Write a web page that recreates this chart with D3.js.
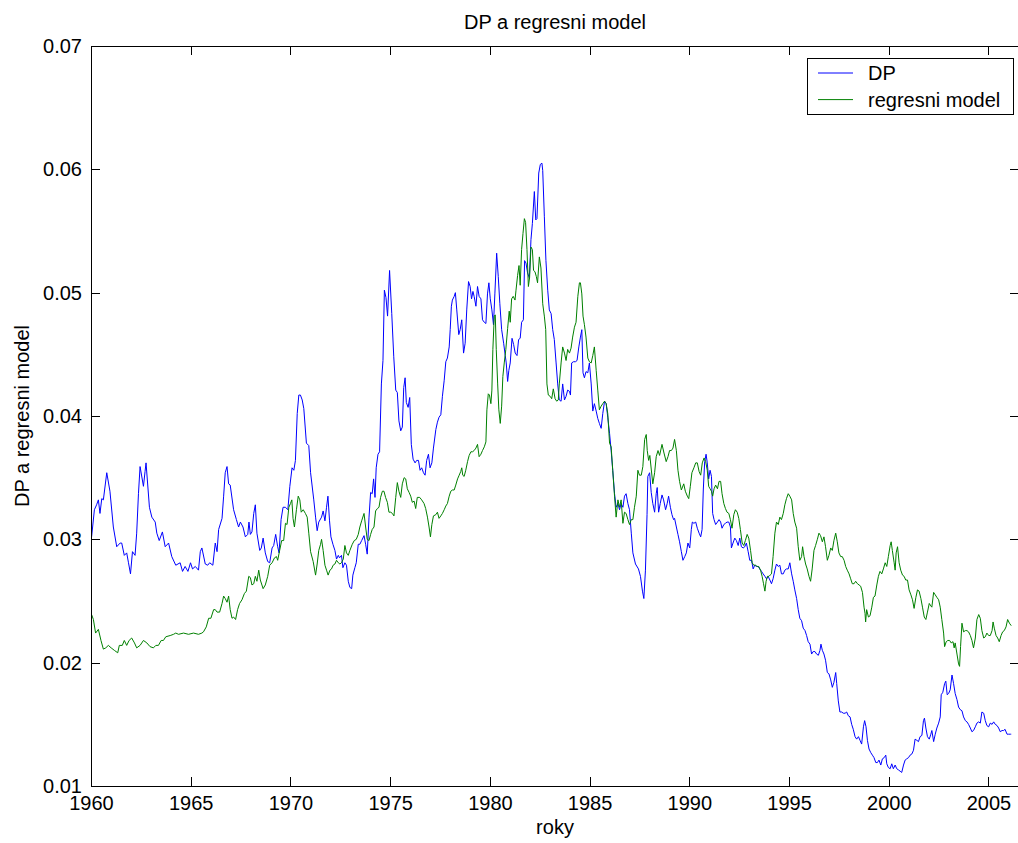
<!DOCTYPE html>
<html>
<head>
  <meta charset="utf-8">
  <title>DP a regresni model</title>
  <style>
    body { margin: 0; background: #fff; }
    text { font-family: "Liberation Sans", Arial, sans-serif; fill: #000; }
    .axis text { font-size: 20px; }
    .axis path, .axis line { stroke: #000; stroke-width: 1; shape-rendering: crispEdges; }
    .series { fill: none; stroke-width: 1; }
  </style>
  <script src="https://d3js.org/d3.v7.min.js"></script>
</head>
<body>
  <script>
    // DP (blue): [year, value]
    var dpData = [
      [1960.03,.0302],[1960.17,.0324],[1960.28,.0328],[1960.37,.0332],[1960.45,.0321],[1960.54,.0333],[1960.62,.0332],[1960.79,.0354],[1960.95,.0339],
      [1961.12,.0310],[1961.29,.0294],[1961.46,.0297],[1961.54,.0297],[1961.67,.0287],[1961.79,.0289],[1961.88,.0281],[1961.98,.0272],
      [1962.08,.0290],[1962.21,.0287],[1962.29,.0305],[1962.38,.0337],[1962.46,.0359],[1962.63,.0343],[1962.71,.0355],[1962.76,.0362],[1962.93,.0326],
      [1963.05,.0318],[1963.22,.0314],[1963.30,.0305],[1963.42,.0299],[1963.58,.0306],[1963.72,.0294],[1963.89,.0297],
      [1964.05,.0286],[1964.25,.0279],[1964.47,.0281],[1964.59,.0274],[1964.72,.0278],[1964.86,.0274],[1964.99,.0281],
      [1965.09,.0276],[1965.23,.0278],[1965.39,.0275],[1965.48,.0290],[1965.56,.0293],[1965.73,.0280],[1965.85,.0279],[1965.95,.0281],
      [1966.11,.0279],[1966.23,.0297],[1966.32,.0290],[1966.40,.0308],[1966.57,.0317],[1966.65,.0335],[1966.73,.0354],[1966.82,.0359],[1966.90,.0345],[1966.98,.0344],
      [1967.15,.0324],[1967.29,.0316],[1967.40,.0310],[1967.49,.0314],[1967.62,.0310],[1967.74,.0302],[1967.86,.0304],[1967.92,.0314],[1967.99,.0304],
      [1968.07,.0306],[1968.16,.0321],[1968.24,.0328],[1968.32,.0305],[1968.46,.0291],[1968.54,.0293],[1968.63,.0301],[1968.74,.0289],[1968.86,.0282],[1968.96,.0281],
      [1969.08,.0293],[1969.16,.0295],[1969.26,.0304],[1969.36,.0294],[1969.43,.0289],[1969.53,.0316],[1969.63,.0326],[1969.75,.0326],[1969.87,.0324],[1969.97,.0343],
      [1970.08,.0358],[1970.17,.0356],[1970.25,.0364],[1970.34,.0402],[1970.42,.0417],[1970.50,.0417],[1970.59,.0413],[1970.67,.0406],[1970.80,.0378],[1970.92,.0376],
      [1971.01,.0354],[1971.17,.0332],[1971.26,.0318],[1971.34,.0307],[1971.42,.0314],[1971.56,.0318],[1971.64,.0323],[1971.73,.0315],[1971.81,.0326],[1971.88,.0335],[1971.96,.0315],
      [1972.03,.0302],[1972.13,.0296],[1972.23,.0291],[1972.31,.0284],[1972.40,.0287],[1972.46,.0285],[1972.56,.0287],[1972.63,.0277],[1972.73,.0281],[1972.81,.0279],[1972.90,.0266],[1972.98,.0261],
      [1973.07,.0260],[1973.13,.0271],[1973.23,.0277],[1973.30,.0281],[1973.40,.0296],[1973.48,.0296],[1973.57,.0299],[1973.69,.0303],[1973.77,.0296],[1973.85,.0288],[1973.94,.0318],
      [1974.02,.0338],[1974.10,.0337],[1974.17,.0349],[1974.24,.0334],[1974.30,.0358],[1974.39,.0369],[1974.47,.0371],[1974.56,.0426],[1974.64,.0445],[1974.71,.0502],[1974.79,.0496],[1974.87,.0481],[1974.97,.0518],
      [1975.08,.0483],[1975.18,.0448],[1975.28,.0421],[1975.36,.0419],[1975.44,.0396],[1975.53,.0388],[1975.61,.0391],[1975.68,.0423],[1975.75,.0431],[1975.81,.0411],[1975.90,.0407],[1975.98,.0415],
      [1976.06,.0377],[1976.15,.0365],[1976.25,.0362],[1976.33,.0364],[1976.42,.0364],[1976.50,.0356],[1976.58,.0358],[1976.67,.0354],[1976.75,.0352],[1976.83,.0364],[1976.92,.0369],
      [1977.00,.0358],[1977.09,.0362],[1977.17,.0374],[1977.29,.0389],[1977.37,.0395],[1977.45,.0399],[1977.54,.0401],[1977.62,.0416],[1977.71,.0429],[1977.79,.0444],[1977.87,.0447],[1977.96,.0456],
      [1978.01,.0470],[1978.07,.0489],[1978.12,.0494],[1978.21,.0497],[1978.27,.0500],[1978.34,.0486],[1978.44,.0466],[1978.51,.0470],[1978.59,.0478],[1978.68,.0451],[1978.76,.0459],[1978.84,.0486],[1978.93,.0509],
      [1979.01,.0505],[1979.08,.0495],[1979.15,.0501],[1979.21,.0497],[1979.30,.0489],[1979.38,.0505],[1979.46,.0497],[1979.55,.0495],[1979.63,.0478],[1979.72,.0476],[1979.80,.0475],[1979.88,.0499],[1979.95,.0508],
      [1980.02,.0495],[1980.10,.0486],[1980.18,.0474],[1980.25,.0499],[1980.34,.0532],[1980.42,.0513],[1980.50,.0491],[1980.59,.0470],[1980.69,.0459],[1980.77,.0449],[1980.82,.0443],[1980.89,.0428],[1980.95,.0437],
      [1981.02,.0443],[1981.11,.0463],[1981.19,.0458],[1981.27,.0451],[1981.36,.0449],[1981.44,.0462],[1981.52,.0463],[1981.59,.0476],[1981.68,.0478],[1981.74,.0526],[1981.81,.0524],[1981.89,.0516],[1981.98,.0512],
      [1982.06,.0543],[1982.13,.0556],[1982.23,.0582],[1982.30,.0559],[1982.36,.0560],[1982.45,.0597],[1982.53,.0604],[1982.61,.0605],[1982.65,.0599],[1982.73,.0562],[1982.81,.0526],[1982.90,.0502],[1982.98,.0486],
      [1983.07,.0483],[1983.15,.0470],[1983.23,.0462],[1983.32,.0443],[1983.40,.0426],[1983.48,.0413],[1983.57,.0412],[1983.65,.0426],[1983.74,.0413],[1983.82,.0416],[1983.90,.0421],[1983.99,.0420],
      [1984.04,.0417],[1984.10,.0443],[1984.19,.0444],[1984.29,.0444],[1984.37,.0445],[1984.46,.0456],[1984.54,.0464],[1984.61,.0470],[1984.67,.0435],[1984.74,.0431],[1984.82,.0436],[1984.91,.0435],[1984.99,.0443],
      [1985.08,.0426],[1985.16,.0404],[1985.24,.0410],[1985.33,.0404],[1985.41,.0398],[1985.49,.0394],[1985.58,.0390],[1985.66,.0402],[1985.75,.0412],[1985.83,.0410],[1985.91,.0399],
      [1986.00,.0386],[1986.08,.0372],[1986.16,.0356],[1986.25,.0337],[1986.33,.0326],[1986.42,.0329],[1986.50,.0324],[1986.58,.0329],[1986.67,.0326],[1986.75,.0335],[1986.83,.0337],[1986.92,.0329],
      [1987.00,.0324],[1987.09,.0305],[1987.17,.0289],[1987.30,.0280],[1987.45,.0276],[1987.55,.0270],[1987.65,.0258],[1987.72,.0252],[1987.80,.0275],[1987.88,.0320],[1987.92,.0351],
      [1988.01,.0354],[1988.09,.0338],[1988.17,.0329],[1988.26,.0322],[1988.34,.0337],[1988.39,.0342],[1988.46,.0322],[1988.54,.0329],[1988.63,.0336],[1988.71,.0332],[1988.81,.0324],[1988.89,.0329],[1988.96,.0335],
      [1989.05,.0326],[1989.13,.0320],[1989.21,.0316],[1989.26,.0317],[1989.35,.0310],[1989.43,.0304],[1989.51,.0298],[1989.60,.0290],[1989.68,.0283],[1989.77,.0286],[1989.85,.0289],[1989.93,.0297],
      [1990.02,.0293],[1990.10,.0308],[1990.15,.0314],[1990.23,.0313],[1990.32,.0314],[1990.40,.0309],[1990.49,.0305],[1990.57,.0302],[1990.64,.0308],[1990.70,.0340],[1990.77,.0363],[1990.84,.0369],[1990.90,.0362],[1990.97,.0349],
      [1991.04,.0356],[1991.11,.0351],[1991.17,.0321],[1991.24,.0316],[1991.32,.0312],[1991.41,.0314],[1991.49,.0316],[1991.57,.0314],[1991.64,.0309],[1991.73,.0312],[1991.81,.0313],[1991.89,.0314],[1991.98,.0314],
      [1992.06,.0310],[1992.11,.0293],[1992.19,.0297],[1992.28,.0301],[1992.36,.0299],[1992.45,.0295],[1992.53,.0301],[1992.61,.0294],[1992.70,.0293],[1992.78,.0294],[1992.86,.0297],[1992.95,.0290],
      [1993.03,.0283],[1993.12,.0283],[1993.20,.0276],[1993.28,.0279],[1993.37,.0278],[1993.45,.0278],[1993.53,.0276],[1993.62,.0274],[1993.70,.0272],[1993.79,.0270],[1993.87,.0268],[1993.95,.0270],
      [1994.04,.0267],[1994.12,.0264],[1994.20,.0268],[1994.29,.0275],[1994.37,.0280],[1994.46,.0278],[1994.54,.0279],[1994.62,.0272],[1994.71,.0272],[1994.79,.0275],[1994.87,.0276],[1994.96,.0276],
      [1995.04,.0281],[1995.13,.0272],[1995.21,.0266],[1995.29,.0259],[1995.38,.0252],[1995.46,.0243],[1995.54,.0236],[1995.63,.0234],[1995.71,.0228],[1995.80,.0226],[1995.88,.0222],[1995.96,.0217],
      [1996.05,.0215],[1996.13,.0207],[1996.21,.0209],[1996.30,.0209],[1996.38,.0207],[1996.47,.0206],[1996.55,.0210],[1996.60,.0215],[1996.67,.0210],[1996.75,.0207],[1996.83,.0202],[1996.92,.0192],
      [1997.00,.0191],[1997.09,.0186],[1997.17,.0180],[1997.25,.0184],[1997.34,.0192],[1997.39,.0183],[1997.47,.0169],[1997.55,.0160],[1997.64,.0160],[1997.72,.0159],[1997.81,.0159],[1997.89,.0160],[1997.97,.0157],
      [1998.06,.0156],[1998.14,.0150],[1998.22,.0146],[1998.31,.0140],[1998.39,.0138],[1998.48,.0140],[1998.56,.0137],[1998.64,.0134],[1998.73,.0148],[1998.79,.0153],[1998.86,.0148],[1998.93,.0137],
      [1999.01,.0130],[1999.10,.0127],[1999.18,.0125],[1999.26,.0123],[1999.35,.0119],[1999.43,.0119],[1999.51,.0121],[1999.60,.0117],[1999.68,.0122],[1999.77,.0123],[1999.85,.0125],[1999.90,.0118],[1999.98,.0115],
      [2000.07,.0114],[2000.15,.0118],[2000.23,.0114],[2000.32,.0117],[2000.40,.0114],[2000.49,.0113],[2000.57,.0112],[2000.65,.0111],[2000.74,.0117],[2000.82,.0121],[2000.90,.0122],[2000.99,.0123],
      [2001.07,.0125],[2001.16,.0126],[2001.24,.0129],[2001.32,.0138],[2001.41,.0137],[2001.49,.0136],[2001.57,.0140],[2001.66,.0141],[2001.74,.0153],[2001.79,.0155],[2001.86,.0147],[2001.94,.0140],
      [2002.03,.0138],[2002.11,.0142],[2002.16,.0145],[2002.25,.0136],[2002.33,.0142],[2002.41,.0147],[2002.50,.0151],[2002.58,.0156],[2002.63,.0174],[2002.71,.0176],[2002.80,.0183],[2002.86,.0185],[2002.93,.0174],
      [2003.00,.0175],[2003.08,.0178],[2003.17,.0190],[2003.25,.0183],[2003.33,.0175],[2003.42,.0170],[2003.50,.0164],[2003.58,.0162],[2003.67,.0161],[2003.75,.0156],[2003.84,.0153],[2003.92,.0152],
      [2004.00,.0150],[2004.09,.0147],[2004.17,.0144],[2004.25,.0145],[2004.34,.0148],[2004.42,.0151],[2004.51,.0152],[2004.59,.0151],[2004.67,.0160],[2004.76,.0159],[2004.84,.0153],[2004.92,.0149],
      [2005.01,.0148],[2005.09,.0151],[2005.18,.0150],[2005.26,.0152],[2005.34,.0150],[2005.43,.0149],[2005.51,.0147],[2005.59,.0144],[2005.68,.0145],[2005.76,.0145],[2005.83,.0146],[2005.93,.0142],
      [2006.01,.0142],[2006.10,.0142],[2006.14,.0142]
    ];

    // regresni model (green): [year, value]
    var modelData = [
      [1960.03,.0239],[1960.12,.0235],[1960.23,.0224],[1960.37,.0227],[1960.50,.0218],[1960.62,.0211],[1960.74,.0212],[1960.87,.0214],
      [1961.01,.0212],[1961.17,.0210],[1961.34,.0208],[1961.42,.0214],[1961.57,.0214],[1961.67,.0218],[1961.79,.0214],[1961.91,.0218],
      [1962.04,.0220],[1962.18,.0216],[1962.29,.0212],[1962.46,.0214],[1962.63,.0218],[1962.80,.0216],[1962.96,.0213],
      [1963.13,.0212],[1963.25,.0214],[1963.38,.0214],[1963.52,.0218],[1963.63,.0218],[1963.75,.0221],[1963.97,.0222],
      [1964.14,.0223],[1964.25,.0224],[1964.39,.0223],[1964.64,.0224],[1964.89,.0223],[1965.14,.0224],[1965.39,.0223],[1965.56,.0224],
      [1965.64,.0225],[1965.78,.0229],[1965.90,.0236],[1966.01,.0236],[1966.15,.0243],[1966.23,.0243],[1966.32,.0241],[1966.45,.0241],
      [1966.57,.0248],[1966.65,.0254],[1966.73,.0252],[1966.82,.0249],[1966.90,.0254],[1966.98,.0243],
      [1967.07,.0236],[1967.15,.0237],[1967.25,.0235],[1967.35,.0243],[1967.45,.0248],[1967.57,.0251],[1967.69,.0256],[1967.79,.0258],[1967.91,.0270],[1967.99,.0269],
      [1968.07,.0263],[1968.16,.0264],[1968.24,.0270],[1968.32,.0266],[1968.41,.0275],[1968.49,.0267],[1968.63,.0260],[1968.74,.0263],[1968.86,.0270],[1968.96,.0279],
      [1969.08,.0281],[1969.20,.0285],[1969.30,.0286],[1969.36,.0283],[1969.46,.0291],[1969.56,.0299],[1969.66,.0299],[1969.75,.0313],[1969.83,.0312],[1969.92,.0326],
      [1970.00,.0329],[1970.07,.0332],[1970.13,.0317],[1970.20,.0310],[1970.30,.0324],[1970.39,.0335],[1970.47,.0332],[1970.54,.0322],[1970.64,.0324],[1970.75,.0321],[1970.84,.0318],[1970.92,.0305],
      [1971.01,.0290],[1971.14,.0282],[1971.26,.0271],[1971.34,.0280],[1971.42,.0291],[1971.51,.0296],[1971.56,.0300],[1971.64,.0291],[1971.73,.0279],[1971.81,.0275],[1971.89,.0271],[1971.98,.0275],
      [1972.06,.0276],[1972.14,.0279],[1972.23,.0280],[1972.31,.0283],[1972.40,.0281],[1972.48,.0280],[1972.56,.0281],[1972.65,.0284],[1972.73,.0295],[1972.81,.0289],[1972.90,.0287],[1972.98,.0291],
      [1973.10,.0296],[1973.20,.0299],[1973.30,.0300],[1973.40,.0304],[1973.48,.0310],[1973.57,.0315],[1973.69,.0321],[1973.77,.0310],[1973.85,.0300],[1973.94,.0299],
      [1974.02,.0304],[1974.10,.0308],[1974.19,.0310],[1974.27,.0323],[1974.36,.0325],[1974.44,.0326],[1974.52,.0334],[1974.61,.0339],[1974.69,.0339],[1974.77,.0334],[1974.86,.0330],[1974.94,.0322],
      [1975.03,.0322],[1975.11,.0321],[1975.19,.0319],[1975.28,.0334],[1975.36,.0346],[1975.44,.0339],[1975.53,.0334],[1975.61,.0345],[1975.70,.0350],[1975.78,.0349],[1975.86,.0341],[1975.95,.0338],
      [1976.03,.0335],[1976.11,.0330],[1976.20,.0331],[1976.28,.0325],[1976.36,.0334],[1976.48,.0334],[1976.58,.0332],[1976.70,.0329],[1976.78,.0325],[1976.87,.0318],[1976.95,.0310],
      [1977.02,.0302],[1977.09,.0312],[1977.17,.0319],[1977.29,.0320],[1977.37,.0322],[1977.45,.0317],[1977.54,.0319],[1977.62,.0321],[1977.71,.0324],[1977.79,.0327],[1977.87,.0329],[1977.96,.0335],
      [1978.04,.0339],[1978.12,.0340],[1978.21,.0340],[1978.29,.0344],[1978.38,.0349],[1978.46,.0352],[1978.54,.0355],[1978.59,.0358],[1978.64,.0352],[1978.71,.0351],[1978.79,.0356],[1978.88,.0363],[1978.96,.0368],
      [1979.05,.0371],[1979.13,.0371],[1979.21,.0372],[1979.30,.0374],[1979.38,.0377],[1979.46,.0367],[1979.55,.0369],[1979.63,.0372],[1979.72,.0375],[1979.80,.0379],[1979.85,.0405],[1979.92,.0418],[1979.98,.0417],
      [1980.05,.0410],[1980.10,.0421],[1980.15,.0454],[1980.22,.0481],[1980.27,.0482],[1980.32,.0454],[1980.39,.0426],[1980.45,.0405],[1980.52,.0394],[1980.59,.0408],[1980.65,.0432],[1980.72,.0443],[1980.80,.0454],[1980.89,.0471],[1980.97,.0485],
      [1981.02,.0476],[1981.09,.0495],[1981.17,.0497],[1981.26,.0494],[1981.31,.0502],[1981.39,.0514],[1981.46,.0522],[1981.52,.0506],[1981.59,.0535],[1981.66,.0548],[1981.73,.0560],[1981.79,.0557],[1981.86,.0535],[1981.93,.0505],[1981.99,.0512],
      [1982.06,.0537],[1982.13,.0535],[1982.19,.0518],[1982.26,.0517],[1982.33,.0513],[1982.39,.0508],[1982.48,.0529],[1982.56,.0520],[1982.65,.0491],[1982.73,.0481],[1982.80,.0470],[1982.86,.0426],[1982.93,.0417],
      [1983.02,.0416],[1983.10,.0414],[1983.18,.0422],[1983.27,.0414],[1983.35,.0412],[1983.43,.0413],[1983.48,.0426],[1983.57,.0443],[1983.65,.0456],[1983.74,.0451],[1983.82,.0445],[1983.90,.0454],[1983.99,.0451],
      [1984.07,.0455],[1984.15,.0464],[1984.24,.0472],[1984.32,.0476],[1984.41,.0497],[1984.49,.0508],[1984.54,.0508],[1984.61,.0499],[1984.67,.0481],[1984.74,.0474],[1984.82,.0464],[1984.91,.0447],[1984.99,.0444],
      [1985.08,.0443],[1985.16,.0449],[1985.24,.0456],[1985.33,.0437],[1985.41,.0421],[1985.49,.0405],[1985.58,.0408],[1985.66,.0410],[1985.75,.0412],[1985.83,.0410],[1985.91,.0402],
      [1986.00,.0378],[1986.08,.0375],[1986.16,.0356],[1986.25,.0335],[1986.33,.0318],[1986.42,.0332],[1986.50,.0326],[1986.58,.0332],[1986.67,.0313],[1986.75,.0322],[1986.83,.0321],[1986.92,.0316],
      [1987.00,.0312],[1987.09,.0316],[1987.17,.0316],[1987.25,.0326],[1987.34,.0335],[1987.42,.0356],[1987.50,.0352],[1987.59,.0352],[1987.67,.0359],[1987.76,.0381],[1987.84,.0385],[1987.89,.0372],[1987.96,.0364],
      [1988.02,.0368],[1988.09,.0357],[1988.17,.0345],[1988.26,.0354],[1988.34,.0367],[1988.43,.0372],[1988.51,.0368],[1988.63,.0377],[1988.73,.0370],[1988.84,.0363],[1988.93,.0367],
      [1989.01,.0372],[1989.10,.0372],[1989.18,.0374],[1989.26,.0381],[1989.35,.0372],[1989.43,.0356],[1989.51,.0347],[1989.60,.0340],[1989.72,.0345],[1989.80,.0339],[1989.90,.0335],[1989.97,.0333],
      [1990.05,.0343],[1990.13,.0354],[1990.23,.0358],[1990.32,.0362],[1990.40,.0362],[1990.49,.0355],[1990.57,.0352],[1990.65,.0362],[1990.74,.0366],[1990.82,.0363],[1990.90,.0356],[1990.97,.0343],
      [1991.04,.0341],[1991.11,.0339],[1991.17,.0335],[1991.24,.0341],[1991.32,.0344],[1991.41,.0341],[1991.49,.0347],[1991.57,.0347],[1991.64,.0337],[1991.73,.0329],[1991.81,.0325],[1991.89,.0322],[1991.98,.0321],
      [1992.06,.0316],[1992.14,.0309],[1992.23,.0320],[1992.31,.0324],[1992.40,.0322],[1992.48,.0317],[1992.56,.0308],[1992.65,.0297],[1992.73,.0295],[1992.81,.0299],[1992.90,.0304],[1992.98,.0301],
      [1993.07,.0291],[1993.15,.0281],[1993.23,.0279],[1993.32,.0279],[1993.40,.0278],[1993.48,.0278],[1993.57,.0275],[1993.65,.0270],[1993.72,.0264],[1993.79,.0258],[1993.85,.0266],[1993.92,.0270],
      [1993.99,.0270],[1994.05,.0271],[1994.12,.0272],[1994.20,.0286],[1994.29,.0305],[1994.37,.0314],[1994.46,.0312],[1994.54,.0318],[1994.62,.0316],[1994.71,.0321],[1994.79,.0328],[1994.87,.0333],[1994.96,.0337],
      [1995.04,.0335],[1995.13,.0332],[1995.21,.0321],[1995.29,.0314],[1995.38,.0309],[1995.46,.0294],[1995.54,.0283],[1995.63,.0286],[1995.68,.0294],[1995.75,.0286],[1995.83,.0280],[1995.91,.0276],
      [1996.00,.0270],[1996.08,.0266],[1996.16,.0276],[1996.25,.0291],[1996.33,.0295],[1996.42,.0300],[1996.50,.0305],[1996.58,.0303],[1996.67,.0298],[1996.75,.0302],[1996.83,.0294],[1996.92,.0283],
      [1997.00,.0287],[1997.09,.0293],[1997.17,.0291],[1997.25,.0299],[1997.34,.0305],[1997.42,.0298],[1997.50,.0289],[1997.59,.0286],[1997.67,.0286],[1997.76,.0283],[1997.84,.0278],[1997.92,.0275],
      [1998.01,.0272],[1998.09,.0268],[1998.17,.0264],[1998.26,.0264],[1998.34,.0266],[1998.43,.0264],[1998.51,.0263],[1998.59,.0262],[1998.68,.0257],[1998.76,.0245],[1998.81,.0240],[1998.84,.0233],[1998.89,.0243],[1998.98,.0237],
      [1999.06,.0238],[1999.15,.0245],[1999.23,.0253],[1999.31,.0254],[1999.40,.0263],[1999.48,.0270],[1999.56,.0274],[1999.65,.0272],[1999.73,.0276],[1999.82,.0281],[1999.90,.0278],[1999.98,.0286],
      [2000.07,.0295],[2000.12,.0298],[2000.18,.0291],[2000.27,.0281],[2000.32,.0275],[2000.37,.0289],[2000.44,.0294],[2000.52,.0281],[2000.60,.0275],[2000.69,.0271],[2000.77,.0270],[2000.85,.0267],[2000.94,.0267],
      [2001.02,.0259],[2001.11,.0255],[2001.19,.0251],[2001.27,.0244],[2001.36,.0253],[2001.44,.0259],[2001.52,.0258],[2001.61,.0252],[2001.69,.0245],[2001.78,.0237],[2001.86,.0235],[2001.94,.0241],
      [2002.03,.0248],[2002.11,.0246],[2002.16,.0245],[2002.25,.0257],[2002.33,.0255],[2002.41,.0253],[2002.50,.0251],[2002.58,.0245],[2002.66,.0235],[2002.75,.0224],[2002.80,.0213],[2002.88,.0217],[2002.96,.0218],
      [2003.05,.0218],[2003.13,.0216],[2003.22,.0217],[2003.28,.0212],[2003.33,.0216],[2003.42,.0207],[2003.50,.0199],[2003.55,.0197],[2003.60,.0213],[2003.67,.0232],[2003.75,.0225],[2003.84,.0226],[2003.92,.0226],
      [2004.00,.0225],[2004.09,.0222],[2004.17,.0218],[2004.25,.0212],[2004.34,.0220],[2004.42,.0235],[2004.51,.0239],[2004.59,.0236],[2004.67,.0226],[2004.76,.0220],[2004.84,.0221],[2004.92,.0224],
      [2005.01,.0222],[2005.09,.0222],[2005.18,.0226],[2005.23,.0233],[2005.29,.0228],[2005.38,.0222],[2005.46,.0220],[2005.54,.0217],[2005.63,.0222],[2005.71,.0225],[2005.79,.0226],[2005.88,.0229],[2005.96,.0235],
      [2006.05,.0232],[2006.14,.0230]
    ];

    var seriesNames = ["DP", "regresni model"];
    var seriesColors = ["#0000ff", "#008000"];
    var xTicks = [1960, 1965, 1970, 1975, 1980, 1985, 1990, 1995, 2000, 2005];
    var yTicks = [0.01, 0.02, 0.03, 0.04, 0.05, 0.06, 0.07];
    var xDomain = [1960, 2006.53];
    var yDomain = [0.01, 0.07];

    var width = 1018, height = 843;
    var margin = {top: 46, right: 0, bottom: 57, left: 91};
    var plotW = 1019 - margin.left;
    var plotH = 786 - margin.top;

    var svg = d3.select("body").append("svg")
      .attr("width", width)
      .attr("height", height);

    var g = svg.append("g")
      .attr("transform", "translate(" + margin.left + "," + margin.top + ")");

    var x = d3.scaleLinear().domain(xDomain).range([0, plotW]);
    var y = d3.scaleLinear().domain(yDomain).range([plotH, 0]);

    // clip lines to the axes box
    svg.append("defs").append("clipPath").attr("id", "clip")
      .append("rect").attr("width", plotW).attr("height", plotH);

    var line = d3.line()
      .x(function(d) { return x(d[0]); })
      .y(function(d) { return y(d[1]); });

    var lines = g.append("g").attr("clip-path", "url(#clip)");
    [dpData, modelData].forEach(function(data, i) {
      lines.append("path")
        .datum(data)
        .attr("class", "series")
        .attr("stroke", seriesColors[i])
        .attr("d", line);
    });

    // axes, matlab style: ticks pointing inward on all four sides
    g.append("g").attr("class", "axis")
      .attr("transform", "translate(0," + plotH + ")")
      .call(d3.axisBottom(x).tickValues(xTicks).tickFormat(d3.format("d"))
        .tickSizeInner(-9).tickSizeOuter(0).tickPadding(10));

    g.append("g").attr("class", "axis")
      .call(d3.axisTop(x).tickValues(xTicks).tickFormat("")
        .tickSizeInner(-9).tickSizeOuter(0));

    g.append("g").attr("class", "axis")
      .call(d3.axisLeft(y).tickValues(yTicks).tickFormat(d3.format(".2f"))
        .tickSizeInner(-9).tickSizeOuter(0).tickPadding(9));

    g.append("g").attr("class", "axis")
      .attr("transform", "translate(" + plotW + ",0)")
      .call(d3.axisRight(y).tickValues(yTicks).tickFormat("")
        .tickSizeInner(-9).tickSizeOuter(0));

    g.selectAll(".axis text").attr("fill", "#000");

    // title and axis labels
    svg.append("text")
      .attr("x", margin.left + plotW / 2)
      .attr("y", 29)
      .attr("text-anchor", "middle")
      .style("font-size", "20px")
      .text("DP a regresni model");

    svg.append("text")
      .attr("x", margin.left + plotW / 2)
      .attr("y", 834)
      .attr("text-anchor", "middle")
      .style("font-size", "20px")
      .text("roky");

    svg.append("text")
      .attr("transform", "translate(29," + (margin.top + plotH / 2) + ") rotate(-90)")
      .attr("text-anchor", "middle")
      .style("font-size", "20px")
      .text("DP a regresni model");

    // legend
    var legend = svg.append("g").attr("transform", "translate(807,58)");
    legend.append("rect")
      .attr("width", 206).attr("height", 56)
      .attr("fill", "#fff").attr("stroke", "#000")
      .attr("shape-rendering", "crispEdges");

    seriesNames.forEach(function(name, i) {
      var ly = 15 + i * 26.6;
      legend.append("line")
        .attr("x1", 11).attr("x2", 46)
        .attr("y1", ly).attr("y2", ly)
        .attr("stroke", seriesColors[i]);
      legend.append("text")
        .attr("x", 61).attr("y", ly + 7)
        .style("font-size", "20px")
        .text(name);
    });
  </script>
</body>
</html>
